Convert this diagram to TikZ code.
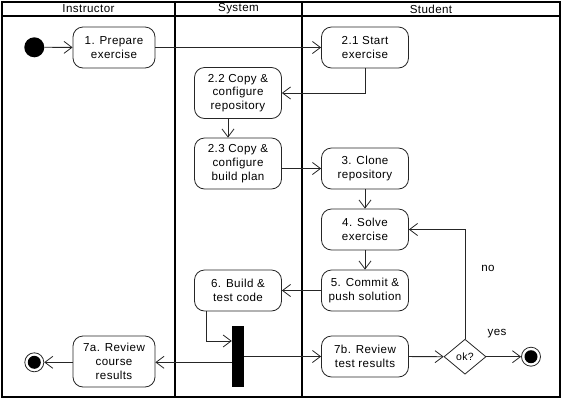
\documentclass[tikz,border=0pt]{standalone}
\usepackage{fontspec}
\setmainfont[LetterSpace=3.5]{Liberation Sans}
\usetikzlibrary{arrows.meta,shapes.geometric}
\begin{document}
\begin{tikzpicture}[x=1pt,y=-1pt,
  act/.style={draw=black!85, line width=0.8pt, rounded corners=10pt, align=center,
    inner sep=0pt, font=\fontsize{11.6}{13.8}\selectfont, minimum width=87pt, minimum height=41pt},
  arr/.style={draw=black!85, line width=0.8pt, -{Straight Barb[length=8pt,width=12pt]}},
  lane/.style={line width=1.6pt},
  hdr/.style={font=\fontsize{11.6}{13}\selectfont, inner sep=0pt},
  lbl/.style={font=\fontsize{11.6}{13.8}\selectfont, inner sep=0pt}]
\useasboundingbox (0,0) rectangle (563,400);
% swimlanes
\draw[lane] (2,2) rectangle (560,397);
\draw[line width=1.2pt] (2,16) -- (560,16);
\draw[lane] (175,2) -- (175,397);
\draw[lane] (302,2) -- (302,397);
\node[hdr] (hI) at (88.5,9) {Instructor};
\node[hdr] (hS) at (238.5,9) {System};
\node[hdr] (hT) at (431,9) {Student};
% nodes
\node[circle, fill=black, minimum size=20pt, inner sep=0pt] (start) at (34.3,47.3) {};
\node[act, minimum width=82pt] (n1) at (114,47.5) {1. Prepare\\exercise};
\node[act] (n21) at (365,47.5) {2.1 Start\\exercise};
\node[act, minimum height=51pt] (n22) at (238,93) {2.2 Copy \&\\configure\\repository};
\node[act, minimum height=51pt] (n23) at (238,163.5) {2.3 Copy \&\\configure\\build plan};
\node[act] (n3) at (365,168.5) {3. Clone\\repository};
\node[act] (n4) at (365,229.5) {4. Solve\\exercise};
\node[act] (n5) at (365,290.5) {5. Commit \&\\push solution};
\node[act] (n6) at (238,290.5) {6. Build \&\\test code};
\node[act, minimum width=82pt, minimum height=51pt] (n7a) at (114,361.5) {7a. Review\\course\\results};
\node[act] (n7b) at (365,356.5) {7b. Review\\test results};
\node[fill=black, minimum width=12pt, minimum height=61pt, inner sep=0pt] (bar) at (238,356.5) {};
\node[diamond, draw=black!85, line width=0.8pt, inner sep=0pt, minimum width=42pt, minimum height=35pt,
  font=\fontsize{10.5}{12}\selectfont] (dec) at (465,356.7) {ok?};
\node[circle, draw=black!85, line width=0.8pt, minimum size=19pt, inner sep=0pt] (end1) at (34.3,362.3) {};
\node[circle, fill=black, minimum size=13pt, inner sep=0pt] at (end1) {};
\node[circle, draw=black!85, line width=0.8pt, minimum size=19pt, inner sep=0pt] (end2) at (531,356.7) {};
\node[circle, fill=black, minimum size=13pt, inner sep=0pt] at (end2) {};
% connectors
\draw[arr] (start) -- (n1);
\draw[arr] (n1) -- (n21);
\draw[arr] (n21.south) |- (n22.east);
\draw[arr] ([xshift=-10pt]n22.south) -- ([xshift=-10pt]n23.north);
\draw[arr] (n23.east |- n3) -- (n3.west);
\draw[arr] (n3) -- (n4);
\draw[arr] (n4) -- (n5);
\draw[arr] (n5) -- (n6);
\draw[arr] ([xshift=-32pt]n6.south) |- ([yshift=15.5pt]bar.west);
\draw[arr] (bar.west |- end1) -- (n7a.east |- end1);
\draw[arr] (n7a.west |- end1) -- (end1);
\draw[arr] (bar.east |- n7b) -- (n7b);
\draw[arr] (n7b) -- (dec);
\draw[arr] (dec) -- (end2);
\draw[arr] (dec.north) |- (n4.east);
\node[lbl] (no) at (488,268) {no};
\node[lbl] (yes) at (497,334) {yes};
\end{tikzpicture}
\end{document}
